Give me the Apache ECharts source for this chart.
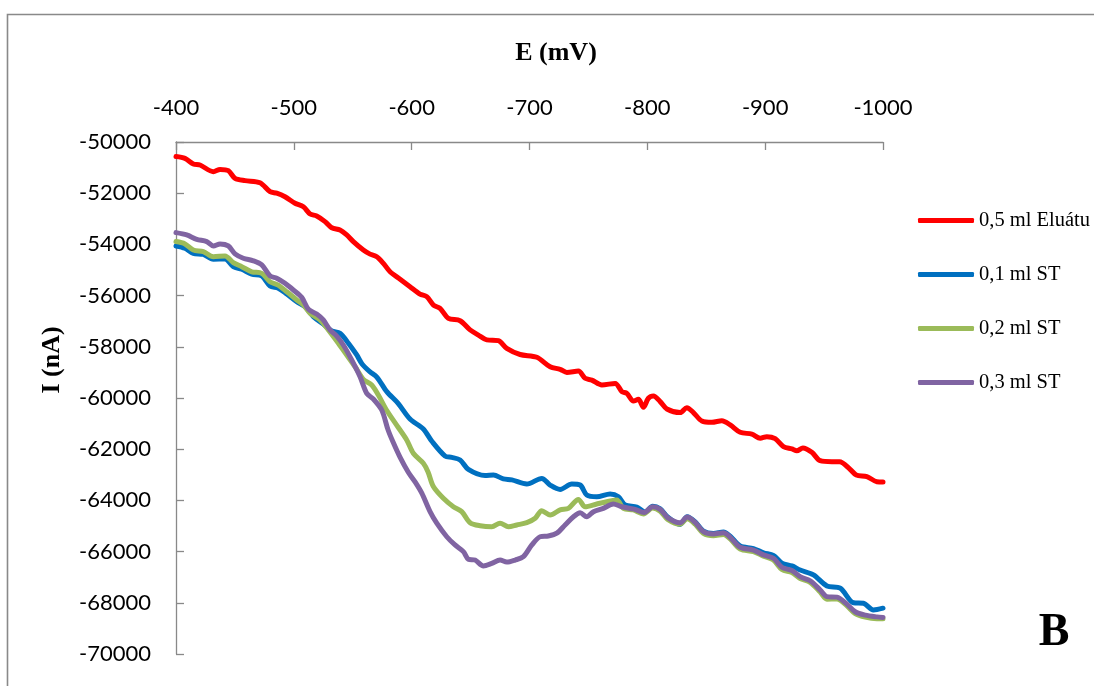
<!DOCTYPE html>
<html>
<head>
<meta charset="utf-8">
<script src="https://cdn.jsdelivr.net/npm/echarts@6/dist/echarts.min.js"></script>
<style>
  html, body { margin: 0; padding: 0; background: #fff; }
  #chart { width: 1094px; height: 686px; }
</style>
</head>
<body>
<div id="chart"></div>
<script>
// Polarographic curves: potential E (mV) vs. current I (nA)
const seriesNames = ['0,5 ml Eluátu', '0,1 ml ST', '0,2 ml ST', '0,3 ml ST'];
const seriesColors = ['#FF0000', '#0070C0', '#9BBB59', '#8064A2'];

const xTicks = [-400, -500, -600, -700, -800, -900, -1000];
const yTicks = [-50000, -52000, -54000, -56000, -58000, -60000, -62000, -64000, -66000, -68000, -70000];

// [E (mV), I (nA)]
const eluat05 = [
  [-400, -50570], [-407.6, -50640], [-414.7, -50860], [-420.4, -50900], [-431.7, -51160],
  [-437.4, -51070], [-444.4, -51120], [-450.1, -51420], [-458.6, -51510], [-471.3, -51590],
  [-479.8, -51940], [-485.5, -52000], [-492.5, -52140], [-501.0, -52390], [-508.1, -52530],
  [-513.8, -52810], [-519.4, -52890], [-526.5, -53110], [-532.2, -53350], [-539.2, -53440],
  [-544.9, -53630], [-550.5, -53890], [-559.0, -54220], [-564.7, -54380], [-570.4, -54480],
  [-576.0, -54740], [-581.7, -55070], [-590.2, -55360], [-598.6, -55650], [-607.1, -55940],
  [-612.8, -56040], [-618.5, -56370], [-624.1, -56500], [-631.2, -56890], [-641.1, -56980],
  [-649.6, -57340], [-656.6, -57540], [-663.8, -57730], [-673.6, -57760], [-680.7, -58060],
  [-692.0, -58300], [-706.2, -58410], [-717.5, -58780], [-726.0, -58880], [-731.7, -59000],
  [-741.5, -58950], [-747.2, -59230], [-752.9, -59300], [-761.4, -59490], [-772.7, -59430],
  [-778.4, -59750], [-782.6, -59820], [-788.2, -60120], [-792.4, -60050], [-796.7, -60360],
  [-800.9, -60010], [-805.2, -59920], [-810.9, -60140], [-816.6, -60430], [-827.9, -60570],
  [-833.5, -60380], [-839.1, -60570], [-846.3, -60900], [-854.8, -60950], [-863.2, -60890],
  [-870.3, -61050], [-878.8, -61340], [-888.7, -61410], [-895.8, -61570], [-901.4, -61510],
  [-908.5, -61590], [-915.5, -61900], [-922.7, -61990], [-926.9, -62060], [-932.0, -61950],
  [-939.6, -62120], [-946.7, -62450], [-956.6, -62490], [-963.1, -62490], [-972.2, -62790],
  [-977.3, -63010], [-986.3, -63070], [-994.8, -63270], [-1000, -63280]
];

const st01 = [
  [-400, -54060], [-407.6, -54150], [-414.7, -54350], [-423.2, -54390], [-431.7, -54580],
  [-441.6, -54570], [-448.6, -54870], [-455.8, -54970], [-464.3, -55160], [-472.8, -55230],
  [-479.8, -55620], [-486.8, -55710], [-494.0, -55940], [-502.5, -56240], [-509.5, -56430],
  [-516.6, -56820], [-525.0, -57110], [-532.2, -57380], [-539.2, -57470], [-546.3, -57860],
  [-553.4, -58320], [-557.9, -58670], [-564.7, -58980], [-570.4, -59180], [-578.9, -59750],
  [-588.5, -60210], [-598.6, -60820], [-609.9, -61210], [-617.3, -61700], [-628.4, -62270],
  [-634.0, -62320], [-641.1, -62420], [-648.1, -62790], [-662.3, -63030], [-669.4, -63010],
  [-677.8, -63160], [-685.0, -63200], [-697.7, -63360], [-710.4, -63140], [-717.5, -63400],
  [-726.0, -63570], [-735.9, -63360], [-743.0, -63400], [-748.6, -63790], [-757.1, -63860],
  [-768.4, -63750], [-775.5, -63860], [-781.2, -64180], [-791.1, -64260], [-798.1, -64450],
  [-804.5, -64230], [-810.9, -64330], [-817.2, -64650], [-827.8, -64940], [-833.8, -64640],
  [-840.6, -64840], [-847.6, -65200], [-856.1, -65290], [-864.6, -65230], [-870.3, -65400],
  [-878.8, -65780], [-890.1, -65880], [-898.6, -66050], [-907.0, -66150], [-914.2, -66450],
  [-922.7, -66560], [-929.7, -66720], [-941.0, -66910], [-952.4, -67340], [-963.7, -67430],
  [-975.0, -68000], [-983.4, -68020], [-991.9, -68280], [-1000, -68210]
];

const st02 = [
  [-400, -53890], [-407.6, -53980], [-414.7, -54220], [-423.2, -54280], [-431.7, -54480],
  [-441.6, -54450], [-448.6, -54710], [-455.8, -54870], [-464.3, -55070], [-472.8, -55130],
  [-479.8, -55460], [-486.8, -55590], [-494.0, -55850], [-502.5, -56170], [-508.1, -56370],
  [-513.8, -56690], [-522.2, -56950], [-529.3, -57340], [-537.8, -57860], [-544.9, -58320],
  [-552.0, -58780], [-559.0, -59270], [-566.1, -59490], [-571.7, -59880], [-578.9, -60490],
  [-587.4, -61070], [-595.8, -61640], [-601.4, -62160], [-609.9, -62550], [-613.9, -62890],
  [-618.4, -63460], [-626.9, -63920], [-635.4, -64250], [-642.5, -64440], [-649.6, -64870],
  [-658.1, -64990], [-668.0, -65030], [-675.0, -64890], [-682.1, -65030], [-689.2, -64960],
  [-697.7, -64870], [-704.8, -64700], [-710.4, -64400], [-717.5, -64570], [-726.0, -64370],
  [-733.0, -64310], [-741.5, -63960], [-747.2, -64250], [-757.1, -64140], [-765.6, -64050],
  [-774.1, -63980], [-779.7, -64310], [-788.0, -64370], [-796.7, -64530], [-804.5, -64300],
  [-810.9, -64420], [-817.2, -64740], [-827.8, -64930], [-833.8, -64720], [-840.6, -64930],
  [-847.6, -65290], [-856.1, -65380], [-864.6, -65330], [-870.3, -65500], [-878.8, -65900],
  [-890.1, -66000], [-898.6, -66180], [-907.0, -66330], [-914.2, -66700], [-922.7, -66820],
  [-929.7, -67050], [-938.2, -67200], [-946.7, -67580], [-952.4, -67860], [-960.9, -67850],
  [-969.4, -68120], [-976.4, -68420], [-984.9, -68560], [-994.8, -68620], [-1000, -68620]
];

const st03 = [
  [-400, -53540], [-409.1, -53630], [-417.6, -53800], [-426.1, -53890], [-431.7, -54060],
  [-437.4, -53980], [-444.4, -54060], [-450.1, -54370], [-457.1, -54540], [-465.6, -54640],
  [-472.8, -54800], [-479.8, -55230], [-485.5, -55320], [-492.5, -55520], [-499.6, -55780],
  [-506.7, -56070], [-512.3, -56530], [-519.4, -56720], [-525.0, -56950], [-530.7, -57340],
  [-536.4, -57580], [-542.0, -57930], [-549.2, -58520], [-556.2, -59170], [-561.9, -59820],
  [-567.5, -60040], [-574.6, -60470], [-580.0, -61250], [-584.2, -61720], [-590.2, -62320],
  [-597.0, -62890], [-602.9, -63280], [-608.6, -63720], [-615.6, -64440], [-621.3, -64890],
  [-629.8, -65420], [-636.8, -65740], [-643.9, -66000], [-648.1, -66300], [-653.8, -66330],
  [-660.9, -66560], [-668.0, -66460], [-675.0, -66330], [-680.7, -66410], [-687.8, -66330],
  [-694.8, -66200], [-702.0, -65740], [-709.0, -65420], [-716.0, -65390], [-723.2, -65280],
  [-730.2, -64960], [-737.3, -64640], [-743.0, -64480], [-748.6, -64640], [-754.3, -64440],
  [-762.7, -64310], [-771.2, -64140], [-778.4, -64250], [-788.8, -64340], [-797.3, -64470],
  [-804.5, -64250], [-810.9, -64350], [-817.2, -64670], [-827.8, -64870], [-833.8, -64650],
  [-840.6, -64860], [-847.6, -65220], [-856.1, -65310], [-864.6, -65260], [-870.3, -65440],
  [-878.8, -65830], [-890.1, -65940], [-898.6, -66130], [-907.0, -66260], [-914.2, -66610],
  [-922.7, -66740], [-929.7, -66980], [-938.2, -67140], [-946.7, -67500], [-952.4, -67760],
  [-960.9, -67780], [-969.4, -68050], [-976.4, -68350], [-984.9, -68480], [-994.8, -68550],
  [-1000, -68570]
];

const allData = [eluat05, st01, st02, st03];

const axisGray = '#898989';
const labelFont = 'Lato, "Open Sans", sans-serif';
const serifFont = '"Liberation Serif", "Times New Roman", serif';
const plainNumber = (v) => String(v);

const chart = echarts.init(document.getElementById('chart'), null, { renderer: 'canvas' });

chart.setOption({
  backgroundColor: '#ffffff',
  animation: false,
  grid: { left: 176, right: 211, top: 142, bottom: 32, containLabel: false },
  xAxis: {
    type: 'value',
    position: 'top',
    inverse: true,
    min: xTicks[xTicks.length - 1],
    max: xTicks[0],
    interval: 100,
    axisLine: { show: true, onZero: false, lineStyle: { color: axisGray, width: 1.3 } },
    axisTick: { show: true, inside: true, length: 8, lineStyle: { color: axisGray, width: 1.3 } },
    axisLabel: { margin: 23, color: '#000', fontFamily: labelFont, fontSize: 22, formatter: plainNumber },
    splitLine: { show: false }
  },
  yAxis: {
    type: 'value',
    min: yTicks[yTicks.length - 1],
    max: yTicks[0],
    interval: 2000,
    axisLine: { show: true, onZero: false, lineStyle: { color: axisGray, width: 1.3 } },
    axisTick: { show: true, inside: true, length: 8, lineStyle: { color: axisGray, width: 1.3 } },
    axisLabel: { margin: 25, color: '#000', fontFamily: labelFont, fontSize: 22, formatter: plainNumber },
    splitLine: { show: false }
  },
  legend: {
    orient: 'vertical',
    left: 913,
    top: 205,
    itemWidth: 56,
    itemHeight: 5,
    itemGap: 33,
    icon: 'roundRect',
    data: seriesNames,
    textStyle: { fontFamily: serifFont, fontSize: 20.5, color: '#000', lineHeight: 20 }
  },
  graphic: [
    {
      type: 'rect',
      silent: true,
      shape: { x: 7.5, y: 14.5, width: 1300, height: 1000 },
      style: { fill: 'none', stroke: axisGray, lineWidth: 1.6 }
    },
    {
      type: 'text',
      x: 556, y: 53,
      style: {
        text: 'E (mV)', font: 'bold 26px ' + serifFont, fill: '#000',
        textAlign: 'center', textVerticalAlign: 'middle', align: 'center', verticalAlign: 'middle'
      }
    },
    {
      type: 'text',
      x: 52, y: 360,
      rotation: Math.PI / 2,
      style: {
        text: 'I (nA)', font: 'bold 26px ' + serifFont, fill: '#000',
        textAlign: 'center', textVerticalAlign: 'middle', align: 'center', verticalAlign: 'middle'
      }
    },
    {
      type: 'text',
      x: 1054, y: 633,
      style: {
        text: 'B', font: 'bold 46px ' + serifFont, fill: '#000',
        textAlign: 'center', textVerticalAlign: 'middle', align: 'center', verticalAlign: 'middle'
      }
    }
  ],
  series: seriesNames.map((name, i) => ({
    name: name,
    type: 'line',
    data: allData[i],
    color: seriesColors[i],
    showSymbol: false,
    symbol: 'none',
    smooth: 0.3,
    lineStyle: { width: 5, color: seriesColors[i], cap: 'round', join: 'round' },
    z: 2 + i
  }))
});
</script>
</body>
</html>
